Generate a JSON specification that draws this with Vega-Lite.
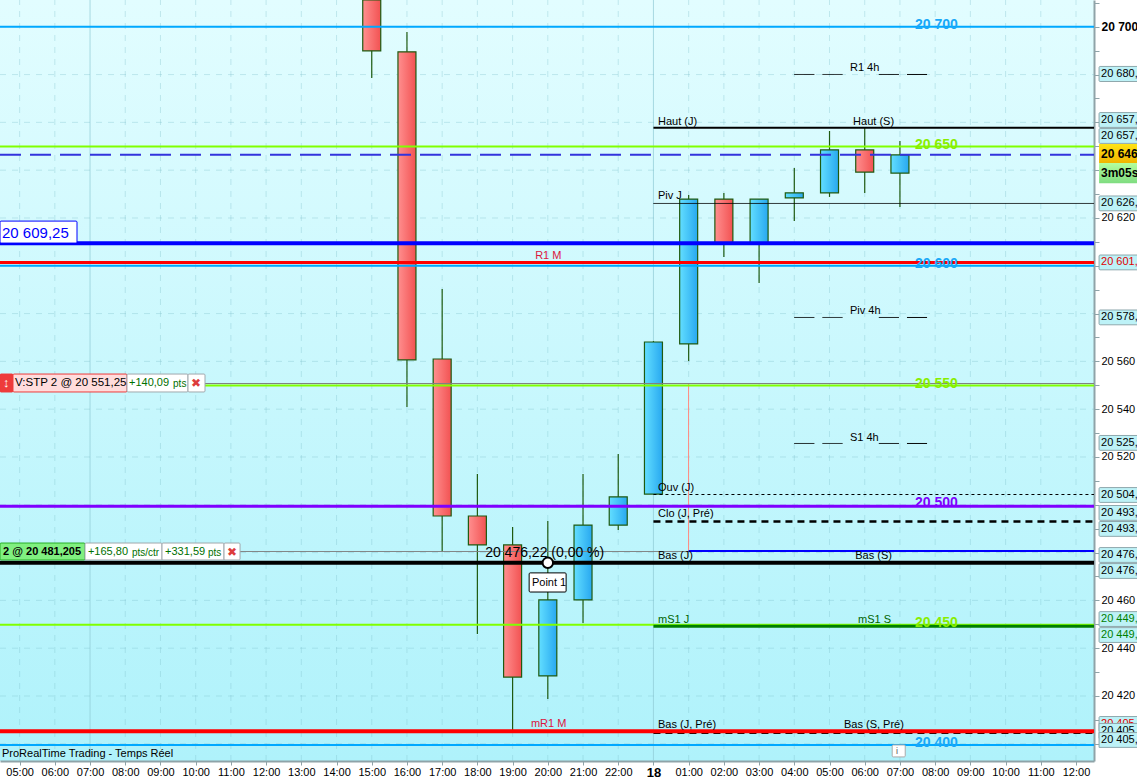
{
"$schema":"https://vega.github.io/schema/vega-lite/v6.json",
"width":1094,"height":761,
"autosize":{"type":"none"},
"padding":{"left":0,"top":0,"right":43,"bottom":16},
"background":"white",
"view":{"stroke":null,"fill":{"gradient":"linear","x1":0,"y1":0,"x2":0,"y2":1,"stops":[{"offset":0,"color":"#e2fdff"},{"offset":1,"color":"#aff2fb"}]}},
"config":{"font":"Liberation Sans","view":{"stroke":null},"axis":{"labelOverlap":false}},
"datasets":{
"vert":[
{"t":5,"v":20392.8,"v2":20711.2,"kind":"grid"},{"t":6,"v":20392.8,"v2":20711.2,"kind":"grid"},{"t":8,"v":20392.8,"v2":20711.2,"kind":"grid"},{"t":9,"v":20392.8,"v2":20711.2,"kind":"grid"},{"t":10,"v":20392.8,"v2":20711.2,"kind":"grid"},{"t":11,"v":20392.8,"v2":20711.2,"kind":"grid"},{"t":12,"v":20392.8,"v2":20711.2,"kind":"grid"},{"t":13,"v":20392.8,"v2":20711.2,"kind":"grid"},{"t":14,"v":20392.8,"v2":20711.2,"kind":"grid"},{"t":15,"v":20392.8,"v2":20711.2,"kind":"grid"},{"t":16,"v":20392.8,"v2":20711.2,"kind":"grid"},{"t":17,"v":20392.8,"v2":20711.2,"kind":"grid"},{"t":18,"v":20392.8,"v2":20711.2,"kind":"grid"},{"t":19,"v":20392.8,"v2":20711.2,"kind":"grid"},{"t":20,"v":20392.8,"v2":20711.2,"kind":"grid"},{"t":21,"v":20392.8,"v2":20711.2,"kind":"grid"},{"t":22,"v":20392.8,"v2":20711.2,"kind":"grid"},{"t":24,"v":20392.8,"v2":20711.2,"kind":"grid"},{"t":25,"v":20392.8,"v2":20711.2,"kind":"grid"},{"t":26,"v":20392.8,"v2":20711.2,"kind":"grid"},{"t":27,"v":20392.8,"v2":20711.2,"kind":"grid"},{"t":28,"v":20392.8,"v2":20711.2,"kind":"grid"},{"t":29,"v":20392.8,"v2":20711.2,"kind":"grid"},{"t":30,"v":20392.8,"v2":20711.2,"kind":"grid"},{"t":31,"v":20392.8,"v2":20711.2,"kind":"grid"},{"t":32,"v":20392.8,"v2":20711.2,"kind":"grid"},{"t":33,"v":20392.8,"v2":20711.2,"kind":"grid"},{"t":34,"v":20392.8,"v2":20711.2,"kind":"grid"},{"t":35,"v":20392.8,"v2":20711.2,"kind":"grid"},
{"t":7,"v":20392.8,"v2":20711.2,"kind":"strong"},{"t":23,"v":20392.8,"v2":20711.2,"kind":"strong"}
],
"wicks":[
{"time":"15:00","t":15,"v":20730,"v2":20678.6},
{"time":"16:00","t":16,"v":20697.8,"v2":20540.9},
{"time":"17:00","t":17,"v":20590.3,"v2":20480.3},
{"time":"18:00","t":18,"v":20512.9,"v2":20445.9},
{"time":"19:00","t":19,"v":20490.7,"v2":20405.4},
{"time":"20:00","t":20,"v":20493.2,"v2":20418.7},
{"time":"21:00","t":21,"v":20512.9,"v2":20450.5},
{"time":"22:00","t":22,"v":20521.3,"v2":20489.5},
{"time":"00:00","t":23,"v":20568.5,"v2":20504.5},
{"time":"01:00","t":24,"v":20629.6,"v2":20560.2},
{"time":"02:00","t":25,"v":20630.5,"v2":20603.7},
{"time":"03:00","t":26,"v":20627.9,"v2":20592.8},
{"time":"04:00","t":27,"v":20640.9,"v2":20618.7},
{"time":"05:00","t":28,"v":20656.4,"v2":20628.8},
{"time":"06:00","t":29,"v":20657.7,"v2":20630.5},
{"time":"07:00","t":30,"v":20652.2,"v2":20624.6}
],
"bodies":[
{"time":"15:00","t":15,"v":20711.2,"v2":20689.9,"dir":"down"},
{"time":"16:00","t":16,"v":20689.5,"v2":20560.6,"dir":"down"},
{"time":"17:00","t":17,"v":20561.0,"v2":20495.3,"dir":"down"},
{"time":"18:00","t":18,"v":20495.3,"v2":20483.2,"dir":"down"},
{"time":"19:00","t":19,"v":20483.2,"v2":20427.9,"dir":"down"},
{"time":"20:00","t":20,"v":20428.4,"v2":20460.2,"dir":"up"},
{"time":"21:00","t":21,"v":20460.2,"v2":20491.5,"dir":"up"},
{"time":"22:00","t":22,"v":20491.5,"v2":20503.3,"dir":"up"},
{"time":"00:00","t":23,"v":20504.5,"v2":20568.1,"dir":"up"},
{"time":"01:00","t":24,"v":20567.3,"v2":20627.9,"dir":"up"},
{"time":"02:00","t":25,"v":20627.9,"v2":20609.5,"dir":"down"},
{"time":"03:00","t":26,"v":20609.5,"v2":20627.9,"dir":"up"},
{"time":"04:00","t":27,"v":20628.4,"v2":20630.5,"dir":"up"},
{"time":"05:00","t":28,"v":20630.5,"v2":20648.5,"dir":"up"},
{"time":"06:00","t":29,"v":20648.5,"v2":20639.2,"dir":"down"},
{"time":"07:00","t":30,"v":20638.8,"v2":20646.4,"dir":"up"}
],
"lines":[
{"t":4.443,"t2":35.511,"v":20700,"kind":"gridH"},{"t":4.443,"t2":35.511,"v":20680,"kind":"gridH"},{"t":4.443,"t2":35.511,"v":20660,"kind":"gridH"},{"t":4.443,"t2":35.511,"v":20640,"kind":"gridH"},{"t":4.443,"t2":35.511,"v":20620,"kind":"gridH"},{"t":4.443,"t2":35.511,"v":20600,"kind":"gridH"},{"t":4.443,"t2":35.511,"v":20580,"kind":"gridH"},{"t":4.443,"t2":35.511,"v":20560,"kind":"gridH"},{"t":4.443,"t2":35.511,"v":20540,"kind":"gridH"},{"t":4.443,"t2":35.511,"v":20520,"kind":"gridH"},{"t":4.443,"t2":35.511,"v":20500,"kind":"gridH"},{"t":4.443,"t2":35.511,"v":20480,"kind":"gridH"},{"t":4.443,"t2":35.511,"v":20460,"kind":"gridH"},{"t":4.443,"t2":35.511,"v":20440,"kind":"gridH"},{"t":4.443,"t2":35.511,"v":20420,"kind":"gridH"},{"t":4.443,"t2":35.511,"v":20400,"kind":"gridH"}
],
"overlines":[
{"t":4.443,"t2":35.511,"v":20700,"kind":"lvlBlue"},
{"t":4.443,"t2":35.511,"v":20600,"kind":"lvlBlue"},
{"t":4.443,"t2":35.511,"v":20399.5,"kind":"lvlBlue"},
{"t":10.265,"t2":35.511,"v":20550.75,"kind":"grey"},
{"t":11.26,"t2":35.511,"v":20480.46,"kind":"grey"},
{"t":4.443,"t2":35.511,"v":20649.9,"kind":"lvlLime"},
{"t":4.443,"t2":35.511,"v":20549.9,"kind":"lvlLime"},
{"t":4.443,"t2":35.511,"v":20449.8,"kind":"lvlLime"},
{"t":4.443,"t2":35.511,"v":20499.4,"kind":"lvlPurple"},
{"t":4.443,"t2":35.511,"v":20609.4,"kind":"thickBlue"},
{"t":4.443,"t2":35.511,"v":20601.4,"kind":"red3"},
{"t":4.443,"t2":35.511,"v":20646.5,"kind":"price"},
{"t":23,"t2":35.511,"v":20657.7,"kind":"haut"},
{"t":23,"t2":35.511,"v":20626.07,"kind":"piv"},
{"t":23,"t2":35.511,"v":20504.3,"kind":"ouv"},
{"t":23,"t2":35.511,"v":20493.0,"kind":"clo"},
{"t":24,"t2":35.511,"v":20480.7,"kind":"basJ"},
{"t":23,"t2":35.511,"v":20449.2,"kind":"mS1"},
{"t":23,"t2":35.511,"v":20404.6,"kind":"clo"},
{"t":4.443,"t2":35.511,"v":20475.7,"kind":"black4"},
{"t":4.443,"t2":35.511,"v":20405.2,"kind":"red4"},
{"t":27,"t2":27.57,"v":20680.04,"kind":"piv"},
{"t":27.8,"t2":28.37,"v":20680.04,"kind":"piv"},
{"t":29.4,"t2":29.97,"v":20680.04,"kind":"piv"},
{"t":30.2,"t2":30.77,"v":20680.04,"kind":"piv"},
{"t":27,"t2":27.57,"v":20578.37,"kind":"piv"},
{"t":27.8,"t2":28.37,"v":20578.37,"kind":"piv"},
{"t":29.4,"t2":29.97,"v":20578.37,"kind":"piv"},
{"t":30.2,"t2":30.77,"v":20578.37,"kind":"piv"},
{"t":27,"t2":27.57,"v":20525.65,"kind":"piv"},
{"t":27.8,"t2":28.37,"v":20525.65,"kind":"piv"},
{"t":29.4,"t2":29.97,"v":20525.65,"kind":"piv"},
{"t":30.2,"t2":30.77,"v":20525.65,"kind":"piv"}
],
"stopline":[{"t":23.997,"v":20550.7,"v2":20480.7}],
"point":[{"t":20,"v":20475.7}],
"boxes":[
{"t":4.443,"t2":6.63,"v":20618.7,"v2":20609.5,"kind":"blueBox","g":0},
{"t":4.443,"t2":4.812,"v":20554.7,"v2":20547.2,"kind":"stopEnd","g":0},
{"t":4.812,"t2":8.05,"v":20554.7,"v2":20547.2,"kind":"stopPink","g":0},
{"t":8.05,"t2":9.782,"v":20554.7,"v2":20547.2,"kind":"white","g":0},
{"t":9.782,"t2":10.265,"v":20554.7,"v2":20547.2,"kind":"white","g":0},
{"t":4.443,"t2":6.857,"v":20484.0,"v2":20476.9,"kind":"posGreen","g":0},
{"t":6.857,"t2":9.044,"v":20484.0,"v2":20476.9,"kind":"white","g":0},
{"t":9.044,"t2":10.805,"v":20484.0,"v2":20476.9,"kind":"white","g":0},
{"t":10.805,"t2":11.26,"v":20484.0,"v2":20476.9,"kind":"white","g":0},
{"t":19.47,"t2":20.52,"v":20471.5,"v2":20463.5,"kind":"point","g":0},
{"t":29.78,"t2":30.15,"v":20399.5,"v2":20394.5,"kind":"info","g":0},
{"t":35.655,"t2":37,"v":20683.4,"v2":20677.1,"kind":"side","g":0},
{"t":35.655,"t2":37,"v":20664.1,"v2":20657.9,"kind":"side","g":0},
{"t":35.655,"t2":37,"v":20657.4,"v2":20651.2,"kind":"side","g":0},
{"t":35.655,"t2":37,"v":20629.2,"v2":20623.0,"kind":"side","g":0},
{"t":35.655,"t2":37,"v":20604.5,"v2":20598.3,"kind":"side","g":0},
{"t":35.655,"t2":37,"v":20581.5,"v2":20575.3,"kind":"side","g":0},
{"t":35.655,"t2":37,"v":20529.0,"v2":20522.8,"kind":"side","g":0},
{"t":35.655,"t2":37,"v":20507.2,"v2":20501.0,"kind":"side","g":0},
{"t":35.655,"t2":37,"v":20499.7,"v2":20493.5,"kind":"side","g":0},
{"t":35.655,"t2":37,"v":20493.0,"v2":20486.8,"kind":"side","g":0},
{"t":35.655,"t2":37,"v":20482.1,"v2":20475.9,"kind":"side","g":0},
{"t":35.655,"t2":37,"v":20475.4,"v2":20469.2,"kind":"side","g":0},
{"t":35.655,"t2":37,"v":20455.3,"v2":20449.1,"kind":"side","g":0},
{"t":35.655,"t2":37,"v":20448.6,"v2":20442.4,"kind":"side","g":0},
{"t":35.655,"t2":37,"v":20411.4,"v2":20405.2,"kind":"side","g":0},
{"t":35.655,"t2":37,"v":20408.5,"v2":20402.3,"kind":"side","g":1},
{"t":35.655,"t2":37,"v":20404.7,"v2":20398.5,"kind":"side","g":2}
],
"gold":[{"t":35.655,"t2":37,"v":20651,"v2":20643}],
"timer":[{"t":35.655,"t2":37,"v":20643,"v2":20634.5}],
"levels":[
{"t":30.43,"v":20700.8,"text":"20 700","kind":"lvlBlue"},
{"t":30.43,"v":20650.5,"text":"20 650","kind":"lvlLime"},
{"t":30.43,"v":20600.8,"text":"20 600","kind":"lvlBlue"},
{"t":30.43,"v":20550.5,"text":"20 550","kind":"lvlLime"},
{"t":30.43,"v":20500.8,"text":"20 500","kind":"lvlPurple"},
{"t":30.43,"v":20450.5,"text":"20 450","kind":"lvlLime"},
{"t":30.43,"v":20400.3,"text":"20 400","kind":"lvlBlue"}
],
"texts":[
{"t":23.13,"v":20660.3,"text":"Haut (J)","kind":"note","g":0},
{"t":28.67,"v":20660.3,"text":"Haut (S)","kind":"note","g":0},
{"t":23.13,"v":20629,"text":"Piv J","kind":"note","g":0},
{"t":23.13,"v":20507.2,"text":"Ouv (J)","kind":"note","g":0},
{"t":23.13,"v":20496,"text":"Clo (J, Pré)","kind":"note","g":0},
{"t":23.13,"v":20478.4,"text":"Bas (J)","kind":"note","g":0},
{"t":28.73,"v":20478.4,"text":"Bas (S)","kind":"note","g":0},
{"t":23.13,"v":20451.6,"text":"mS1 J","kind":"noteGreen","g":0},
{"t":28.81,"v":20451.6,"text":"mS1 S","kind":"noteGreen","g":0},
{"t":23.13,"v":20407.7,"text":"Bas (J, Pré)","kind":"note","g":0},
{"t":28.41,"v":20407.7,"text":"Bas (S, Pré)","kind":"note","g":0},
{"t":19.64,"v":20604.1,"text":"R1 M","kind":"noteRed","g":0},
{"t":19.52,"v":20408.3,"text":"mR1 M","kind":"noteRed","g":0},
{"t":28.58,"v":20682.8,"text":"R1 4h","kind":"note","g":0},
{"t":28.58,"v":20581.1,"text":"Piv 4h","kind":"note","g":0},
{"t":28.58,"v":20528,"text":"S1 4h","kind":"note","g":0},
{"t":18.22,"v":20479.8,"text":"20 476,22 (0,00 %)","kind":"value","g":0},
{"t":19.55,"v":20467.3,"text":"Point 1","kind":"note","g":0},
{"t":4.5,"v":20395.7,"text":"ProRealTime Trading - Temps Réel","kind":"note","g":0},
{"t":29.89,"v":20396.9,"text":"i","kind":"unitGrey","g":0},
{"t":4.5,"v":20613.7,"text":"20 609,25","kind":"big","g":0},
{"t":4.53,"v":20551,"text":"↕","kind":"arrow","g":0},
{"t":4.87,"v":20551,"text":"V:STP 2 @ 20 551,25","kind":"ticket","g":0},
{"t":8.107,"v":20551,"text":"+140,09","kind":"pl","g":0},
{"t":9.357,"v":20550.7,"text":"pts","kind":"unit","g":0},
{"t":9.87,"v":20551,"text":"✖","kind":"cross","g":0},
{"t":6.94,"v":20480.3,"text":"+165,80","kind":"pl","g":0},
{"t":8.19,"v":20480,"text":"pts/ctr","kind":"unit","g":0},
{"t":9.13,"v":20480.3,"text":"+331,59","kind":"pl","g":0},
{"t":10.35,"v":20480,"text":"pts","kind":"unit","g":0},
{"t":10.89,"v":20480.3,"text":"✖","kind":"cross","g":0},
{"t":35.71,"v":20680.25,"text":"20 680,25","kind":"note","g":0},
{"t":35.71,"v":20661,"text":"20 657,75","kind":"note","g":0},
{"t":35.71,"v":20654.3,"text":"20 657,75","kind":"note","g":0},
{"t":35.71,"v":20626.1,"text":"20 626,25","kind":"note","g":0},
{"t":35.71,"v":20601.4,"text":"20 601,40","kind":"sideRed","g":0},
{"t":35.71,"v":20578.4,"text":"20 578,50","kind":"note","g":0},
{"t":35.71,"v":20525.9,"text":"20 525,90","kind":"note","g":0},
{"t":35.71,"v":20504.1,"text":"20 504,25","kind":"note","g":0},
{"t":35.71,"v":20496.6,"text":"20 493,00","kind":"note","g":0},
{"t":35.71,"v":20489.9,"text":"20 493,00","kind":"note","g":0},
{"t":35.71,"v":20479,"text":"20 476,22","kind":"note","g":0},
{"t":35.71,"v":20472.3,"text":"20 476,22","kind":"note","g":0},
{"t":35.71,"v":20452.2,"text":"20 449,20","kind":"sideGreen","g":0},
{"t":35.71,"v":20445.5,"text":"20 449,20","kind":"sideGreen","g":0},
{"t":35.71,"v":20408.3,"text":"20 405,20","kind":"sideRed","g":0},
{"t":35.71,"v":20405.4,"text":"20 405,20","kind":"note","g":1},
{"t":35.71,"v":20401.6,"text":"20 405,20","kind":"note","g":2}
],
"bold":[
{"t":4.53,"v":20480.3,"text":"2 @ 20 481,205","kind":"ticketBold"},
{"t":35.71,"v":20646.6,"text":"20 646,50","kind":"priceBold"},
{"t":35.71,"v":20638.8,"text":"3m05s","kind":"priceBold"}
]
},
"encoding":{
 "x":{"field":"t","type":"quantitative","title":null,"scale":{"domain":[4.443,35.511],"nice":false,"zero":false,"padding":0},
   "axis":{"orient":"bottom","values":[5,6,7,8,9,10,11,12,13,14,15,16,17,18,19,20,21,22,23,24,25,26,27,28,29,30,31,32,33,34,35],
    "labelExpr":"datum.value==23?'18':format(datum.value<23?datum.value:datum.value-23,'02d')+':00'",
    "labelFontSize":{"expr":"datum.value==23?13:11"},"labelFontWeight":{"expr":"datum.value==23?'bold':'normal'"},
    "labelColor":"#000","labelFont":"Liberation Sans","labelPadding":1,"labelOverlap":false,"labelFlush":false,"labelBound":false,"labelSeparation":0,
    "tickSize":4,"tickColor":"#8fa3a8","tickWidth":1,"domainColor":"#8fa3a8","domainWidth":2,"grid":false}},
 "y":{"field":"v","type":"quantitative","title":null,"scale":{"domain":[20392.8,20711.2],"nice":false,"zero":false},
   "axis":{"orient":"right","values":[20400,20410,20420,20430,20440,20450,20460,20470,20480,20490,20500,20510,20520,20530,20540,20550,20560,20570,20580,20590,20600,20610,20620,20630,20640,20650,20660,20670,20680,20690,20700,20710],
    "labelExpr":"indexof([20700,20620,20560,20540,20520,20460,20440,20420],datum.value)>=0?'20 '+format(datum.value-20000,'03d'):''",
    "labelFontSize":{"expr":"datum.value==20700?12:11"},"labelFontWeight":{"expr":"datum.value==20700?'bold':'normal'"},
    "labelColor":"#000","labelPadding":2,"labelOverlap":false,"labelFlush":false,"labelBound":false,"labelSeparation":0,
    "tickSize":5,"tickColor":"#8fa3a8","tickWidth":1,"domainColor":"#8fa3a8","domainWidth":2,"grid":false}}
},
"layer":[
{"data":{"name":"vert"},"mark":{"type":"rule"},
 "encoding":{"y2":{"field":"v2"},
  "stroke":{"field":"kind","type":"nominal","legend":null,"scale":{"domain":["grid","strong"],"range":["#7fc0ca","#8fcad4"]}},
  "opacity":{"field":"kind","type":"ordinal","legend":null,"scale":{"type":"ordinal","domain":["grid","strong"],"range":[0.35,0.7]}},
  "strokeDash":{"field":"kind","type":"nominal","legend":null,"scale":{"domain":["grid","strong"],"range":[[6,6],[1,0]]}}}},
{"data":{"name":"lines"},"mark":{"type":"rule","stroke":"#7fc0ca","opacity":0.35,"strokeDash":[6,6],"strokeWidth":1},
 "encoding":{"x2":{"field":"t2"}}},
{"data":{"name":"wicks"},"mark":{"type":"rule","stroke":"#1f5a10","strokeWidth":1.2,"clip":true},
 "encoding":{"y2":{"field":"v2"}}},
{"data":{"name":"bodies"},"transform":[{"filter":"datum.dir=='up'"}],
 "mark":{"type":"bar","size":18,"stroke":"#1f5a10","strokeWidth":1.2,"clip":true,"fill":{"gradient":"linear","x1":0,"y1":0,"x2":1,"y2":0,"stops":[{"offset":0,"color":"#62deff"},{"offset":1,"color":"#28a8f0"}]}},
 "encoding":{"y2":{"field":"v2"}}},
{"data":{"name":"bodies"},"transform":[{"filter":"datum.dir=='down'"}],
 "mark":{"type":"bar","size":18,"stroke":"#1f5a10","strokeWidth":1.2,"clip":true,"fill":{"gradient":"linear","x1":0,"y1":0,"x2":1,"y2":0,"stops":[{"offset":0,"color":"#ff8f8f"},{"offset":1,"color":"#f25252"}]}},
 "encoding":{"y2":{"field":"v2"}}},
{"data":{"name":"stopline"},"mark":{"type":"rule","stroke":"#ff8a80","strokeWidth":1},
 "encoding":{"y2":{"field":"v2"}}},
{"data":{"name":"overlines"},"mark":{"type":"rule"},
 "encoding":{"x2":{"field":"t2"},
  "stroke":{"field":"kind","type":"nominal","legend":null,"scale":{"domain":["lvlBlue","lvlLime","lvlPurple","thickBlue","red3","red4","price","black4","grey","haut","piv","ouv","clo","basJ","mS1"],"range":["#00a8ff","#80ff00","#7f00ff","#0000ff","#ff0000","#ff0000","#3333dd","#000000","#808080","#000000","#000000","#000000","#000000","#0000ff","#007f00"]}},
  "strokeWidth":{"field":"kind","type":"ordinal","legend":null,"scale":{"type":"ordinal","domain":["lvlBlue","lvlLime","lvlPurple","thickBlue","red3","red4","price","black4","grey","haut","piv","ouv","clo","basJ","mS1"],"range":[2,2,3,4,3,4,2,4,1,2,1,1,2.5,2,3]}},
  "strokeDash":{"field":"kind","type":"nominal","legend":null,"scale":{"domain":["lvlBlue","lvlLime","lvlPurple","thickBlue","red3","red4","price","black4","grey","haut","piv","ouv","clo","basJ","mS1"],"range":[[1,0],[1,0],[1,0],[1,0],[1,0],[1,0],[21,9],[1,0],[1,0],[1,0],[1,0],[3,3],[7,5],[1,0],[1,0]]}}}},
{"data":{"name":"point"},"mark":{"type":"point","filled":true,"fill":"#ffffff","stroke":"#000000","strokeWidth":2,"size":110,"opacity":1}},
{"data":{"name":"boxes"},"transform":[{"filter":"datum.g==0"}],"mark":{"type":"rect","cornerRadius":1,"strokeWidth":1},
 "encoding":{"x2":{"field":"t2"},"y2":{"field":"v2"},
  "fill":{"field":"kind","type":"nominal","legend":null,"scale":{"domain":["blueBox","stopEnd","stopPink","white","posGreen","point","info","side"],"range":["#ffffff","#ee3b3b","#ffdcdc","#ffffff","#80f080","#ffffff","#ffffff","#bdf2f7"]}},
  "stroke":{"field":"kind","type":"nominal","legend":null,"scale":{"domain":["blueBox","stopEnd","stopPink","white","posGreen","point","info","side"],"range":["#0000ff","#ee3b3b","#ee3b3b","#a0a8ad","#28b028","#000000","#aaaaaa","#8fa8ad"]}}}},
{"data":{"name":"gold"},"mark":{"type":"rect","fill":{"gradient":"linear","x1":0,"y1":0,"x2":0,"y2":1,"stops":[{"offset":0,"color":"#ffe414"},{"offset":1,"color":"#f0b400"}]}},
 "encoding":{"x2":{"field":"t2"},"y2":{"field":"v2"}}},
{"data":{"name":"timer"},"mark":{"type":"rect","fill":{"gradient":"linear","x1":0,"y1":0,"x2":0,"y2":1,"stops":[{"offset":0,"color":"#b4ff9e"},{"offset":1,"color":"#7edc80"}]}},
 "encoding":{"x2":{"field":"t2"},"y2":{"field":"v2"}}},
{"data":{"name":"levels"},"mark":{"type":"text","align":"left","baseline":"middle","fontWeight":"bold","fontSize":14},
 "encoding":{"text":{"field":"text"},
  "fill":{"field":"kind","type":"nominal","legend":null,"scale":{"domain":["lvlBlue","lvlLime","lvlPurple"],"range":["#18a8f8","#88ee00","#7f00ff"]}}}},
{"data":{"name":"texts"},"transform":[{"filter":"datum.g==0"}],"mark":{"type":"text","align":"left","baseline":"middle"},
 "encoding":{"text":{"field":"text"},
  "fill":{"field":"kind","type":"nominal","legend":null,"scale":{"domain":["note","noteGreen","noteRed","value","unitGrey","big","arrow","ticket","pl","unit","cross","sideRed","sideGreen"],"range":["#000000","#006400","#dc143c","#000000","#555555","#0000ff","#ffffff","#000000","#007000","#007000","#dd3c3c","#e00000","#008000"]}},
  "size":{"field":"kind","type":"ordinal","legend":null,"scale":{"type":"ordinal","domain":["note","noteGreen","noteRed","value","unitGrey","big","arrow","ticket","pl","unit","cross","sideRed","sideGreen"],"range":[11,11,11,14,9,15,13,11.5,11,10,12,11,11]}}}},
{"data":{"name":"bold"},"mark":{"type":"text","align":"left","baseline":"middle","fontWeight":"bold"},
 "encoding":{"text":{"field":"text"},
  "size":{"field":"kind","type":"ordinal","legend":null,"scale":{"type":"ordinal","domain":["ticketBold","priceBold"],"range":[11,12]}}}},
{"data":{"name":"boxes"},"transform":[{"filter":"datum.g==1"}],"mark":{"type":"rect","fill":"#bdf2f7","stroke":"#8fa8ad"},
 "encoding":{"x2":{"field":"t2"},"y2":{"field":"v2"}}},
{"data":{"name":"texts"},"transform":[{"filter":"datum.g==1"}],"mark":{"type":"text","align":"left","baseline":"middle","fontSize":11,"fill":"#000000"},
 "encoding":{"text":{"field":"text"}}},
{"data":{"name":"boxes"},"transform":[{"filter":"datum.g==2"}],"mark":{"type":"rect","fill":"#bdf2f7","stroke":"#8fa8ad"},
 "encoding":{"x2":{"field":"t2"},"y2":{"field":"v2"}}},
{"data":{"name":"texts"},"transform":[{"filter":"datum.g==2"}],"mark":{"type":"text","align":"left","baseline":"middle","fontSize":11,"fill":"#000000"},
 "encoding":{"text":{"field":"text"}}}
],
"resolve":{"scale":{"fill":"independent","stroke":"independent","size":"independent","strokeWidth":"independent","strokeDash":"independent","opacity":"independent"}}
}
